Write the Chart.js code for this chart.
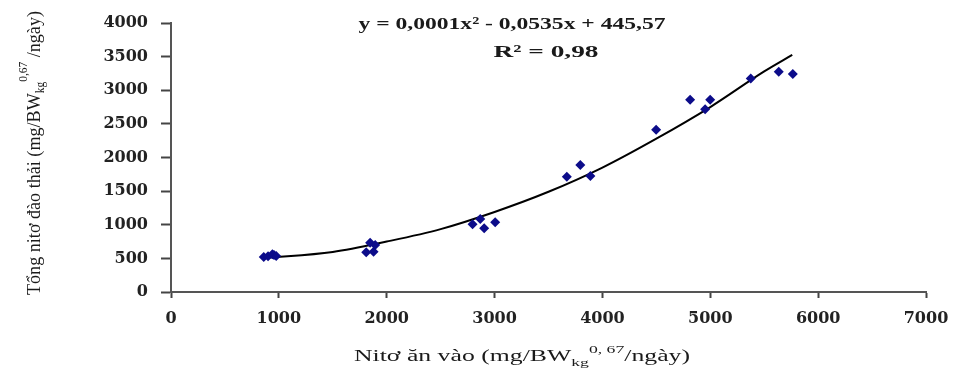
<!DOCTYPE html>
<html>
<head>
<meta charset="utf-8">
<script src="https://cdn.jsdelivr.net/npm/chart.js@4"></script>
<style>
  html, body { margin: 0; padding: 0; background: #fff; }
  #wrap { width: 953px; height: 373px; }
</style>
</head>
<body>
<div id="wrap"><canvas id="nitoChart" width="953" height="373"></canvas></div>
<script>
// values
const intakeX = [860, 900, 940, 955, 975, 1810, 1846, 1878, 1893, 2796, 2867, 2904, 3006, 3670, 3795, 3888, 4498, 4813, 4952, 4999, 5375, 5635, 5765];
const excretedY = [520, 530, 560, 550, 535, 590, 733, 600, 699, 1007, 1086, 947, 1036, 1715, 1889, 1726, 2411, 2857, 2719, 2857, 3175, 3274, 3240];

// trend curve as drawn in the picture
const trendX = [870, 1500, 2000, 2500, 3000, 3500, 4000, 4500, 5000, 5500, 5760];
const trendY = [506, 595, 750, 935, 1190, 1490, 1850, 2280, 2750, 3280, 3525];

const xTicks = [0, 1000, 2000, 3000, 4000, 5000, 6000, 7000];
const yTicks = [0, 500, 1000, 1500, 2000, 2500, 3000, 3500, 4000];

const equationText = "y = 0,0001x² - 0,0535x + 445,57";
const r2Text = "R² = 0,98";

const serif = '"Liberation Serif", "DejaVu Serif", serif';

// draw text made of pieces (normal / sub / sup), stretched to a target width
function drawParts(ctx, parts, cx, baseY, targetW) {
  let w = 0;
  parts.forEach((p) => {
    ctx.font = p.font;
    p.w = ctx.measureText(p.text).width;
    w += p.w;
  });
  const sx = targetW ? targetW / w : 1;
  ctx.save();
  ctx.translate(cx, baseY);
  ctx.scale(sx, 1);
  let x = -w / 2;
  parts.forEach((p) => {
    ctx.font = p.font;
    ctx.fillText(p.text, x, p.dy || 0);
    x += p.w;
  });
  ctx.restore();
}

const textPlugin = {
  id: "textPlugin",
  afterDraw(chart) {
    const ctx = chart.ctx;
    ctx.save();
    ctx.fillStyle = "#1a1a1a";
    ctx.textBaseline = "alphabetic";
    ctx.textAlign = "left";

    // equation
    drawParts(ctx, [{ text: equationText, font: "bold 17px " + serif }], 512, 29, 307);
    drawParts(ctx, [{ text: r2Text, font: "bold 17px " + serif }], 546, 57, 105);

    // x title
    drawParts(ctx, [
      { text: "Nitơ ăn vào (mg/BW", font: "16px " + serif },
      { text: "kg", font: "11px " + serif, dy: 5 },
      { text: "0, 67", font: "11px " + serif, dy: -8 },
      { text: "/ngày)", font: "16px " + serif },
    ], 522, 361, 336);

    // y title (rotated, condensed)
    ctx.translate(40, 153);
    ctx.rotate(-Math.PI / 2);
    drawParts(ctx, [
      { text: "Tổng nitơ đào thải (mg/BW", font: "19px " + serif },
      { text: "kg", font: "12px " + serif, dy: 4 },
      { text: "0,67", font: "12px " + serif, dy: -13 },
      { text: " /ngày)", font: "19px " + serif },
    ], 0, 0, 284);
    ctx.restore();
  },
};

const ctx = document.getElementById("nitoChart").getContext("2d");
new Chart(ctx, {
  type: "scatter",
  data: {
    datasets: [
      {
        label: "Số liệu",
        data: intakeX.map((x, i) => ({ x: x, y: excretedY[i] })),
        pointStyle: "rectRot",
        pointRadius: 5,
        backgroundColor: "#0c0c8a",
        borderColor: "#0c0c8a",
        borderWidth: 0,
      },
      {
        type: "line",
        label: "Xu hướng",
        data: trendX.map((x, i) => ({ x: x, y: trendY[i] })),
        borderColor: "#000",
        borderWidth: 2,
        pointRadius: 0,
        fill: false,
        cubicInterpolationMode: "monotone",
      },
    ],
  },
  options: {
    responsive: false,
    animation: false,
    layout: { padding: { left: 0, right: 27, top: 23, bottom: 0 } },
    plugins: {
      legend: { display: false },
      tooltip: { enabled: false },
    },
    scales: {
      x: {
        type: "linear",
        min: 0,
        max: 7000,
        afterBuildTicks: (scale) => {
          scale.ticks = xTicks.map((v) => ({ value: v }));
        },
        afterFit: (scale) => {
          scale.height = 81;
          scale.paddingLeft = 0;
          scale.paddingRight = 0;
        },
        border: { color: "#555", width: 2 },
        grid: { drawOnChartArea: false, color: "#444", tickLength: 6, tickWidth: 2 },
        ticks: {
          color: "#222",
          padding: 11,
          callback: (v) => String(v),
          font: { family: "DejaVu Serif", size: 16, weight: "bold" },
        },
      },
      y: {
        type: "linear",
        min: 0,
        max: 4000,
        afterBuildTicks: (scale) => {
          scale.ticks = yTicks.map((v) => ({ value: v }));
        },
        afterFit: (scale) => {
          scale.width = 171;
          scale.paddingTop = 0;
          scale.paddingBottom = 0;
        },
        border: { color: "#555", width: 2 },
        grid: { drawOnChartArea: false, color: "#444", tickLength: 10, tickWidth: 2 },
        ticks: {
          color: "#222",
          padding: 13,
          callback: (v) => String(v),
          font: { family: "DejaVu Serif", size: 16, weight: "bold" },
        },
      },
    },
  },
  plugins: [textPlugin],
});
</script>
</body>
</html>
